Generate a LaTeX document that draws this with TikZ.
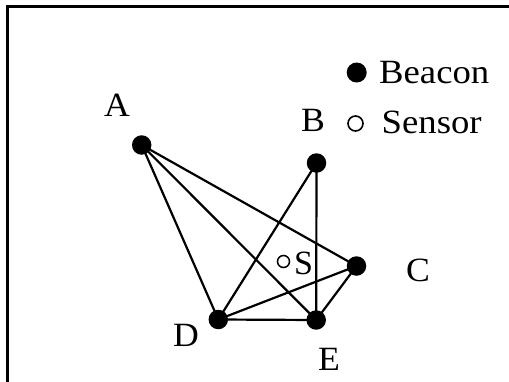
\documentclass[tikz,border=0pt]{standalone}
\usepackage{fontspec}
\setmainfont{Liberation Serif}
\begin{document}
\begin{tikzpicture}[x=1pt,y=-1pt,
  beacon/.style={circle,fill=black,inner sep=0pt,minimum size=19.5pt},
  sensor/.style={circle,draw=black,line width=1.5pt,fill=white,inner sep=0pt,minimum size=12pt},
  legsensor/.style={circle,draw=black,line width=1.6pt,fill=white,inner sep=0pt,minimum size=15pt},
  edge/.style={line width=2.2pt},
  lbl/.style={font=\fontsize{34}{34}\selectfont,inner sep=0pt}]
\useasboundingbox (0,0) rectangle (509,381);
\clip (0,0) rectangle (509,381);
\fill[white] (0,0) rectangle (509,381);
\draw[line width=2.6pt] (7.5,420) -- (7.5,6.5) -- (560,6.5);
% beacons
\node[beacon] (A) at (141.7,145) {};
\node[beacon] (B) at (316.5,163) {};
\node[beacon] (C) at (356.5,266) {};
\node[beacon] (D) at (218.3,319.5) {};
\node[beacon] (E) at (316.2,320) {};
% edges
\draw[edge] (A.center) -- (D.center);
\draw[edge] (A.center) -- (E.center);
\draw[edge] (A.center) -- (C.center);
\draw[edge] (B.center) -- (D.center);
\draw[edge] (B.center) -- (E.center);
\draw[edge] (D.center) -- (E.center);
\draw[edge] (D.center) -- (C.center);
\draw[edge] (E.center) -- (C.center);
% sensor
\node[sensor] (S) at (283.5,261.5) {};
% labels
\node[lbl] (lA) at (117,105) {\scalebox{1.05}[1]{A}};
\node[lbl] (lB) at (313,120) {\scalebox{1.05}[1]{B}};
\node[lbl] (lC) at (418,270.5) {\scalebox{1.05}[1]{C}};
\node[lbl] (lD) at (186,335.5) {\scalebox{1.05}[1]{D}};
\node[lbl] (lE) at (329,359.5) {\scalebox{1.05}[1]{E}};
\node[lbl] (lS) at (303.5,263) {\scalebox{1.0}[1]{S}};
% legend
\node[beacon,minimum size=20pt] (legB) at (356.7,72.5) {};
\node[lbl,anchor=base west] (legBt) at (379,83.3) {\scalebox{1.08}[1]{Beacon}};
\node[legsensor] (legS) at (355.5,123.5) {};
\node[lbl,anchor=base west] (legSt) at (381.5,133.3) {\scalebox{1.08}[1]{Sensor}};
\end{tikzpicture}
\end{document}
